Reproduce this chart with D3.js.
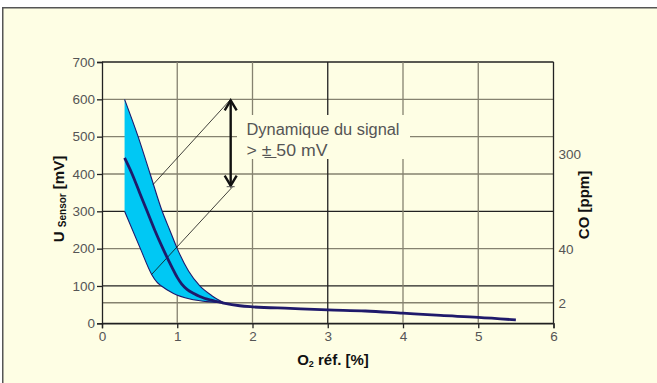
<!DOCTYPE html>
<html>
<head>
<meta charset="utf-8">
<script src="https://cdn.jsdelivr.net/npm/d3@7"></script>
<style>
    body { margin: 0; background: #ffffff; }
    svg { display: block; font-family: "Liberation Sans", Arial, Helvetica, sans-serif; }
    .title { fill: #111; font-weight: bold; }
</style>
</head>
<body>
<script>
// O2 ref [%] axis and sensor voltage [mV] axis
const xTicks = [0, 1, 2, 3, 4, 5, 6];
const yTicks = [0, 100, 200, 300, 400, 500, 600, 700];
// CO [ppm] labels on the right, placed at the mV level they match
const coLabels = ['300', '40', '2'];
const coLevels = [452, 200, 55];

// mean sensor signal
const signal = [
    [0.3, 443], [0.4, 400], [0.5, 350], [0.6, 300], [0.7, 250], [0.81, 200],
    [0.93, 150], [1.0, 123], [1.06, 105], [1.13, 91], [1.22, 80], [1.3, 72],
    [1.45, 62], [1.6, 55], [1.83, 47], [2, 44], [2.5, 40], [3, 36], [3.5, 33],
    [4, 27], [4.5, 21], [5, 16], [5.5, 9],
];
// scatter band, upper and lower edges
const bandUpper = [
    [0.3, 600], [0.48, 500], [0.64, 400], [0.8, 300], [0.9, 250], [1.0, 200],
    [1.15, 140], [1.3, 100], [1.46, 74], [1.62, 55],
];
const bandLower = [
    [0.3, 300], [0.51, 200], [0.66, 131], [0.73, 110], [0.79, 100],
    [0.95, 80], [1.17, 65], [1.39, 58], [1.62, 55],
];
// dynamic range arrow and its leader lines
const arrowX = 1.71;
const arrowRange = [600, 366];
const leaderEnds = [[0.68, 372], [0.66, 131]];
const noteLines = ['Dynamique du signal', '> \u00b1 50 mV'];

const W = 657, H = 383;
const bg = '#fefee4';
const gridGrey = '#85826f';
const gridDark = '#222';

const svg = d3.select('body').append('svg')
    .attr('width', W)
    .attr('height', H);

//frame
svg.append('rect')
    .attr('x', 2.75).attr('y', 7.75)
    .attr('width', W + 10).attr('height', H + 10)
    .attr('fill', bg)
    .attr('stroke', '#555')
    .attr('stroke-width', 1.5);

const x = d3.scaleLinear().domain([0, 6]).range([102, 553.5]);
const y = d3.scaleLinear().domain([0, 700]).range([323.3, 62]);

const g = svg.append('g');

//grid
const darkY = [0, 100, 300, 700];
g.append('g').selectAll('line')
    .data(yTicks.concat([55]))
    .enter().append('line')
    .attr('x1', x(0)).attr('x2', x(6))
    .attr('y1', d => y(d)).attr('y2', d => y(d))
    .attr('stroke', d => darkY.includes(d) ? gridDark : gridGrey)
    .attr('stroke-width', 1.3);
g.append('g').selectAll('line')
    .data(xTicks.slice(1))
    .enter().append('line')
    .attr('x1', d => x(d)).attr('x2', d => x(d))
    .attr('y1', y(0)).attr('y2', y(700))
    .attr('stroke', d => d === 3 || d === 6 ? gridDark : gridGrey)
    .attr('stroke-width', 1.3);

//band
const curve = d3.line()
    .x(d => x(d[0]))
    .y(d => y(d[1]))
    .curve(d3.curveMonotoneX);
const bandPath = curve(bandUpper) + 'L' + curve(bandLower.slice().reverse()).slice(1) + 'Z';
g.append('path')
    .attr('d', bandPath)
    .attr('fill', '#00c8f4')
    .attr('stroke', 'none');
[bandUpper, bandLower].forEach(edge => {
    g.append('path')
        .attr('d', curve(edge))
        .attr('fill', 'none')
        .attr('stroke', '#1e1a6e')
        .attr('stroke-width', 1.1);
});

//leader lines
leaderEnds.forEach((p, i) => {
    g.append('line')
        .attr('x1', x(arrowX) + (i ? 2 : 0)).attr('y1', y(arrowRange[i]))
        .attr('x2', x(p[0])).attr('y2', y(p[1]))
        .attr('stroke', '#111')
        .attr('stroke-width', 0.8);
});

//note box
g.append('rect')
    .attr('x', 237).attr('y', 115)
    .attr('width', 173).attr('height', 44)
    .attr('fill', bg);

//arrow
const ax = x(arrowX);
const [aTop, aBot] = arrowRange.map(v => y(v));
g.append('line')
    .attr('x1', ax).attr('x2', ax)
    .attr('y1', aTop + 1).attr('y2', aBot - 1)
    .attr('stroke', '#111').attr('stroke-width', 2.4);
g.append('path')
    .attr('d', `M${ax - 6},${aTop + 11}L${ax},${aTop + 1}L${ax + 6},${aTop + 11}`
        + `M${ax - 6},${aBot - 11}L${ax},${aBot - 1}L${ax + 6},${aBot - 11}`)
    .attr('fill', 'none')
    .attr('stroke', '#111').attr('stroke-width', 2.4);
g.append('line')
    .attr('x1', ax - 4).attr('x2', ax + 4)
    .attr('y1', aBot).attr('y2', aBot)
    .attr('stroke', '#555').attr('stroke-width', 1);

//note text
noteLines.forEach((t, i) => {
    g.append('text')
        .attr('x', 246.5)
        .attr('y', 135 + i * 20.5)
        .attr('fill', '#555')
        .attr('font-size', 16)
        .attr('textLength', i ? 81 : 153)
        .attr('lengthAdjust', 'spacingAndGlyphs')
        .text(t);
});
// underline under the plus-minus
g.append('line')
    .attr('x1', 264.5).attr('x2', 276.5)
    .attr('y1', 157.5).attr('y2', 157.5)
    .attr('stroke', '#555').attr('stroke-width', 1);

//signal
g.append('path')
    .attr('d', curve(signal))
    .attr('fill', 'none')
    .attr('stroke', '#1f1a6b')
    .attr('stroke-width', 2.8);

//axes
const styleAxis = a => {
    a.attr('font-size', 13.5).attr('font-family', null);
    a.selectAll('line, path').attr('stroke', gridDark).attr('stroke-width', 1.3);
    a.selectAll('text').attr('fill', '#555');
};
g.append('g')
    .attr('transform', `translate(${x(0)},0)`)
    .call(d3.axisLeft(y).tickValues(yTicks).tickSize(5).tickPadding(2).tickFormat(d3.format('d')))
    .call(styleAxis);
g.append('g')
    .attr('transform', `translate(0,${y(0)})`)
    .call(d3.axisBottom(x).tickValues(xTicks).tickSize(5).tickPadding(3).tickFormat(d3.format('d')))
    .call(styleAxis);

//right CO labels
g.append('g').selectAll('text')
    .data(coLabels)
    .enter().append('text')
    .attr('x', 558.5)
    .attr('y', (d, i) => y(coLevels[i]))
    .attr('dy', '0.36em')
    .attr('fill', '#555')
    .attr('font-size', 13.5)
    .text(d => d);

//titles
const yTitle = svg.append('text')
    .attr('class', 'title')
    .attr('transform', 'translate(63.5,199) rotate(-90)')
    .attr('text-anchor', 'middle')
    .attr('font-size', 15);
yTitle.append('tspan').text('U ');
yTitle.append('tspan').attr('font-size', 10).attr('dy', 2).text('Sensor');
yTitle.append('tspan').attr('dy', -2).text(' [mV]');

const xTitle = svg.append('text')
    .attr('class', 'title')
    .attr('x', 333).attr('y', 365)
    .attr('text-anchor', 'middle')
    .attr('font-size', 15);
xTitle.append('tspan').text('O');
xTitle.append('tspan').attr('font-size', 9).attr('dy', 2).text('2');
xTitle.append('tspan').attr('dy', -2).text(' réf. [%]');

svg.append('text')
    .attr('class', 'title')
    .attr('transform', 'translate(588.5,205) rotate(-90)')
    .attr('text-anchor', 'middle')
    .attr('font-size', 15)
    .text('CO [ppm]');
</script>
</body>
</html>
